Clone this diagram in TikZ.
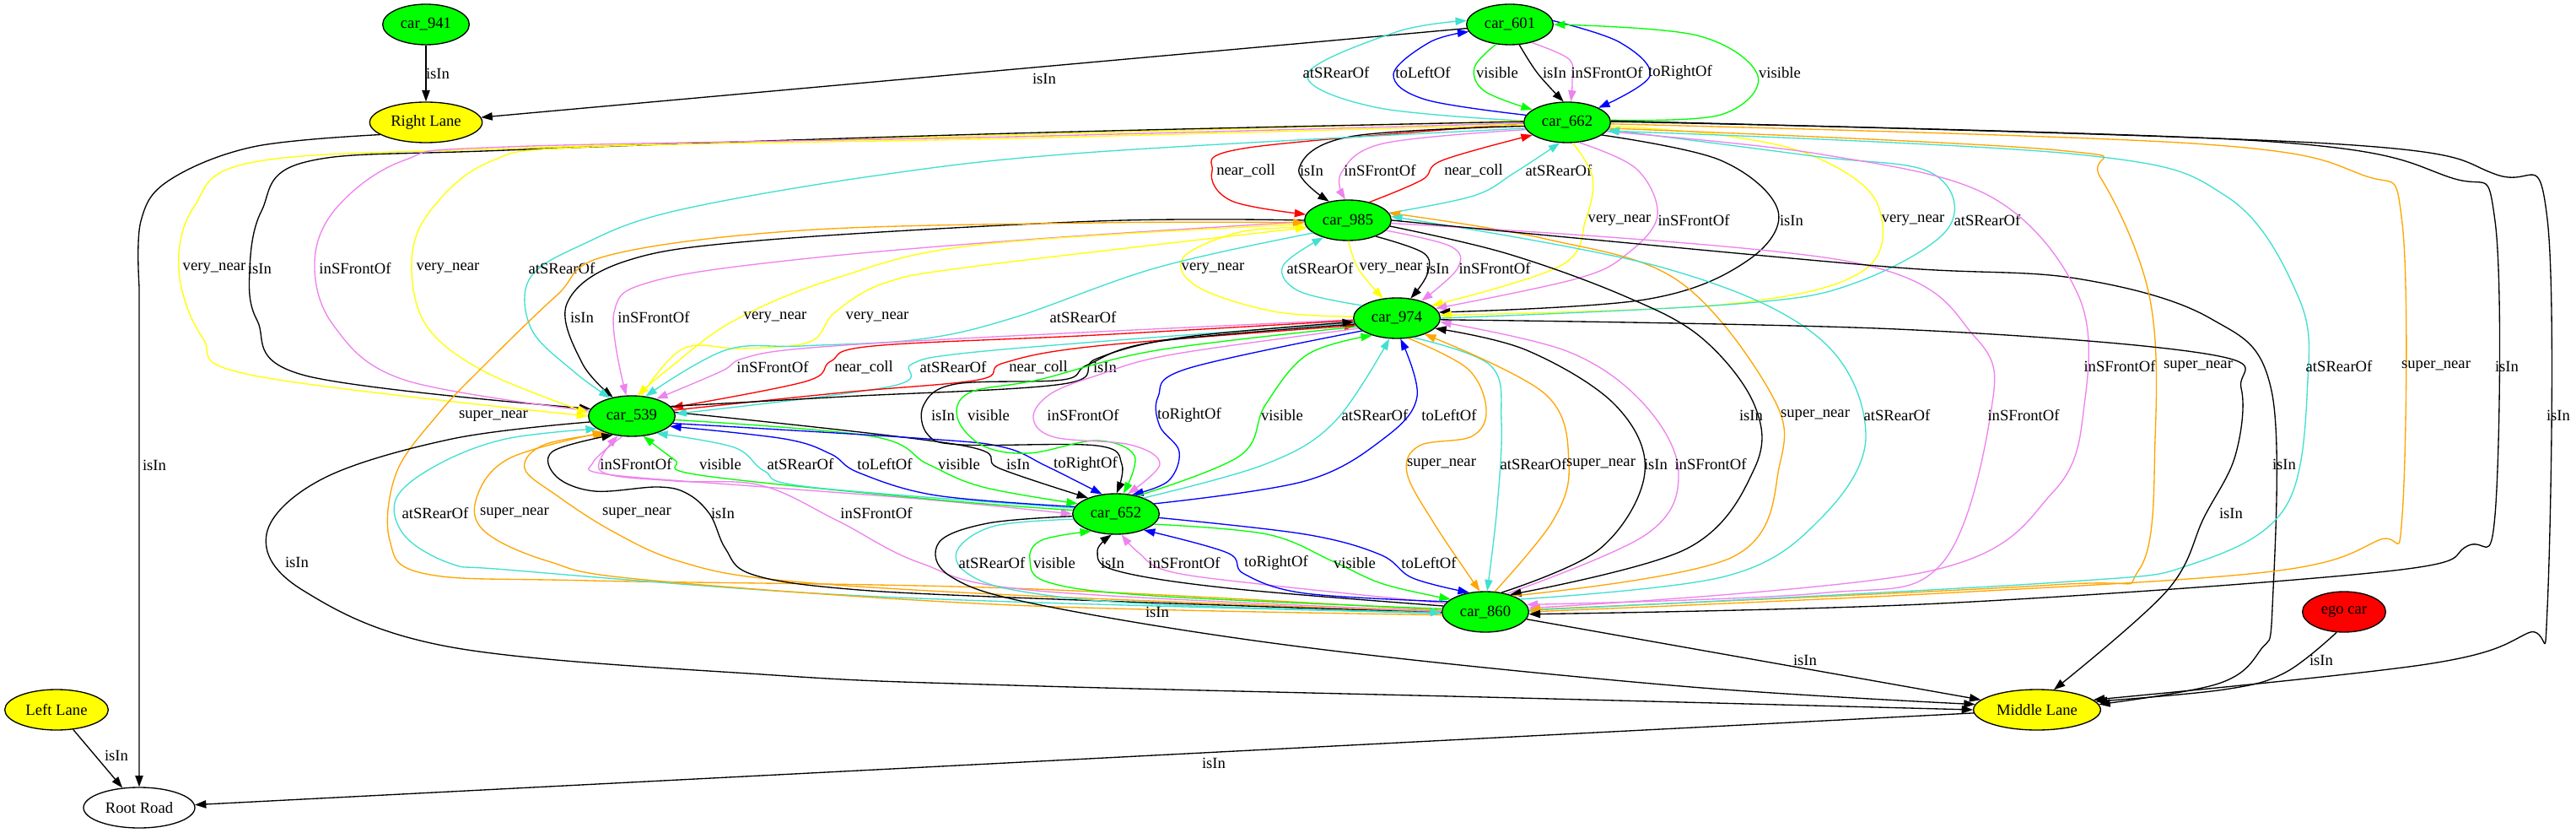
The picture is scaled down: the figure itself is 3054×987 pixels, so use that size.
\documentclass[tikz,border=0pt]{standalone}
\usepackage{fontspec}
\setmainfont{Liberation Serif}
\usetikzlibrary{shapes.geometric,arrows.meta}
\definecolor{gvgreen}{RGB}{0,255,0}
\definecolor{gvyellow}{RGB}{255,255,0}
\definecolor{gvturq}{RGB}{64,224,208}
\definecolor{gvviolet}{RGB}{238,130,238}
\definecolor{gvorange}{RGB}{255,165,0}
\begin{document}
\begin{tikzpicture}[x=0.75pt, y=-0.75pt,
    >={Triangle[length=10pt, width=7pt]},
    every node/.style={font=\fontsize{14}{16}\selectfont},
    obj/.style={ellipse, draw, line width=1pt, minimum height=36pt, inner sep=0pt},
    car/.style={obj, fill=gvgreen, minimum width=77pt},
    lane/.style={obj, fill=gvyellow, minimum width=100pt},
    rel/.style={->, line width=1pt, smooth, tension=0.6},
    lbl/.style={inner sep=1pt, text=black}]
    \useasboundingbox (0,0) rectangle (3054,987);
    \node [car] (n941) at (505,29) {car\_941};
    \node [lane] (rlane) at (505,145) {Right Lane};
    \node [car] (c601) at (1790,29) {car\_601};
    \node [car] (c662) at (1858,145) {car\_662};
    \node [car] (c985) at (1598,261) {car\_985};
    \node [car] (c974) at (1656,377) {car\_974};
    \node [car] (c539) at (749,493) {car\_539};
    \node [car] (c652) at (1323,609) {car\_652};
    \node [car] (c860) at (1761,725) {car\_860};
    \node [obj, fill=red, minimum width=74pt] (ego) at (2779,725) {ego car};
    \node [lane, minimum width=92pt] (llane) at (67,841) {Left Lane};
    \node [lane, minimum width=113pt] (mlane) at (2415,841) {Middle Lane};
    \node [obj, minimum width=99pt] (road) at (165,957) {Root Road};

    \draw [rel] (n941) -- (rlane) node [lbl] at (519,87) {isIn};
    \draw [rel] (c601) -- (rlane) node [lbl] at (1238,93) {isIn};
    \draw [rel] plot coordinates {(rlane.195) (300,174) (200,214) (167,262) (165,340)} -- (road) node [lbl] at (183,551) {isIn};
    \draw [rel] (llane) -- (road) node [lbl] at (138,895) {isIn};
    \draw [rel] (mlane) -- (road) node [lbl] at (1439,904) {isIn};

    \draw [rel, gvturq] plot coordinates {(c662.178) (1630,127) (1550,88) (1655,38) (c601.175)} node [lbl] at (1584,86) {atSRearOf};
    \draw [rel, blue] plot coordinates {(c662.170) (1690,118) (1652,88) (1695,50) (c601.190)} node [lbl] at (1687,86) {toLeftOf};
    \draw [rel, gvgreen] plot coordinates {(c601.235) (1748,80) (1760,108) (c662.160)} node [lbl] at (1775,86) {visible};
    \draw [rel] plot coordinates {(c601.295) (1823,87) (c662.100)} node [lbl] at (1843,86) {isIn};
    \draw [rel, gvviolet] plot coordinates {(c601.320) (1860,70) (1864,95) (c662.80)} node [lbl] at (1905,86) {inSFrontOf};
    \draw [rel, blue] plot coordinates {(c601.5) (1920,50) (1956,90) (c662.25)} node [lbl] at (1992,86) {toRightOf};
    \draw [rel, gvgreen] plot coordinates {(c662.3) (2040,136) (2084,90) (2012,42) (c601.0)} node [lbl] at (2110,86) {visible};

    \draw [rel, red] plot coordinates {(c662.182) (1480,175) (1437,203) (1460,238) (c985.172)} node [lbl] at (1477,202) {near\_coll};
    \draw [rel] plot coordinates {(c662.185) (1600,162) (1540,200) (c985.135)} node [lbl] at (1555,202) {isIn};
    \draw [rel, gvviolet] plot coordinates {(c662.190) (1640,170) (1590,205) (c985.97)} node [lbl] at (1636,202) {inSFrontOf};
    \draw [rel, red] plot coordinates {(c985.40) (1686,213) (1710,190) (c662.200)} node [lbl] at (1747,202) {near\_coll};
    \draw [rel, gvturq] plot coordinates {(c985.10) (1747,232) (1795,205) (c662.250)} node [lbl] at (1848,202) {atSRearOf};

    \draw [rel, gvyellow] plot coordinates {(c662.285) (1888,210) (1880,260) (1850,315) (c974.20)} node [lbl] at (1920,261) {very\_near};
    \draw [rel, gvviolet] plot coordinates {(c662.300) (1940,200) (1965,255) (1930,300) (1870,330) (c974.14)} node [lbl] at (2008,261) {inSFrontOf};
    \draw [rel] plot coordinates {(c662.340) (2040,190) (2108,250) (2070,310) (1950,355) (c974.8)} node [lbl] at (2124,261) {isIn};
    \draw [rel, gvyellow] plot coordinates {(c662.355) (2040,160) (2150,185) (2225,240) (2210,320) (2050,360) (c974.4)} node [lbl] at (2268,261) {very\_near};
    \draw [rel, gvturq] plot coordinates {(c974.0) (2060,360) (2200,335) (2310,270) (2290,205) (2150,185) (c662.350)} node [lbl] at (2356,261) {atSRearOf};

    \draw [rel, gvyellow] plot coordinates {(c974.178) (1510,369) (1420,340) (1403,305) (1470,275) (c985.190)} node [lbl] at (1438,318) {very\_near};
    \draw [rel, gvturq] plot coordinates {(c974.160) (1540,345) (1521,315) (c985.215)} node [lbl] at (1565,318) {atSRearOf};
    \draw [rel, gvyellow] plot coordinates {(c985.272) (1610,318) (c974.125)} node [lbl] at (1649,318) {very\_near};
    \draw [rel] plot coordinates {(c985.330) (1688,300) (1692,325) (c974.55)} node [lbl] at (1704,318) {isIn};
    \draw [rel, gvviolet] plot coordinates {(c985.345) (1720,292) (1728,318) (c974.35)} node [lbl] at (1772,318) {inSFrontOf};

    \draw [rel] plot coordinates {(c985.180) (1300,262) (900,285) (740,310) (672,360) (690,430) (c539.135)} node [lbl] at (690,376) {isIn};
    \draw [rel, gvviolet] plot coordinates {(c985.182) (1230,283) (950,307) (775,333) (728,370) (c539.105)} node [lbl] at (775,376) {inSFrontOf};
    \draw [rel, gvyellow] plot coordinates {(c985.185) (1160,290) (990,330) (870,380) (795,435) (c539.75)} node [lbl] at (919,376) {very\_near};
    \draw [rel, gvyellow] plot coordinates {(c539.65) (810,413) (880,413) (960,405) (990,370) (1050,335) (1160,315) (c985.190)} node [lbl] at (1040,376) {very\_near};
    \draw [rel, gvturq] plot coordinates {(c985.200) (1372,317) (1200,377) (1090,402) (950,410) (860,415) (c539.55)} node [lbl] at (1284,376) {atSRearOf};

    \draw [rel, gvyellow] plot coordinates {(c662.178) (1200,160) (600,176) (301,192) (230,245) (212,320) (240,400) (301,445) (c539.180)} node [lbl] at (254,318) {very\_near};
    \draw [rel] plot coordinates {(c662.179) (1200,158) (600,178) (362,192) (310,250) (296,320) (305,380) (362,445) (c539.170)} node [lbl] at (308,318) {isIn};
    \draw [rel, gvviolet] plot coordinates {(c662.181) (1200,162) (600,174) (479,190) (400,245) (373,310) (395,385) (479,450) (c539.173)} node [lbl] at (421,318) {inSFrontOf};
    \draw [rel, gvyellow] plot coordinates {(c662.183) (1200,164) (700,174) (580,192) (510,250) (488,310) (505,385) (574,440) (c539.176)} node [lbl] at (531,318) {very\_near};
    \draw [rel, gvturq] plot coordinates {(c662.188) (1300,180) (1046,207) (800,250) (690,290) (628,330) (630,390) (680,440) (c539.140)} node [lbl] at (666,318) {atSRearOf};
    \draw [rel, gvorange] plot coordinates {(c860.178) (1200,697) (700,688) (505,680) (462,640) (470,560) (520,490) (574,433) (660,350) (720,303) (950,273) (1300,264) (c985.183)} node [lbl] at (585,493) {super\_near};

    \draw [rel, gvturq] plot coordinates {(c860.182) (1200,713) (918,700) (600,675) (535,668) (480,635) (470,590) (520,550) (600,520) (c539.200)} node [lbl] at (516,608) {atSRearOf};
    \draw [rel, gvorange] plot coordinates {(c860.184) (1200,717) (765,687) (650,665) (575,630) (565,590) (604,543) (c539.210)} node [lbl] at (610,608) {super\_near};
    \draw [rel, gvorange] plot coordinates {(c860.180) (1200,705) (920,687) (805,665) (727,630) (660,587) (622,555) (645,527) (c539.215)} node [lbl] at (755,608) {super\_near};
    \draw [rel] plot coordinates {(c860.181) (1200,708) (995,697) (890,680) (860,650) (842,610) (815,585) (780,577) (705,582) (660,565) (655,535) (c539.225)} node [lbl] at (857,608) {isIn};
    \draw [rel, gvviolet] plot coordinates {(c860.179) (1230,700) (1091,667) (993,617) (902,575) (800,570) (712,558) (c539.235)} node [lbl] at (1039,608) {inSFrontOf};

    \draw [rel, gvviolet] plot coordinates {(c539.245) (703,548) (720,562) (906,577) (1100,592) (c652.180)} node [lbl] at (754,550) {inSFrontOf};
    \draw [rel, gvgreen] plot coordinates {(c652.175) (1110,592) (830,563) (800,545) (c539.300)} node [lbl] at (854,550) {visible};
    \draw [rel, gvturq] plot coordinates {(c652.172) (960,577) (906,558) (870,530) (c539.325)} node [lbl] at (949,550) {atSRearOf};
    \draw [rel, blue] plot coordinates {(c652.170) (1110,587) (1018,560) (985,538) (930,520) (c539.345)} node [lbl] at (1049,550) {toLeftOf};
    \draw [rel, gvgreen] plot coordinates {(c539.355) (1034,517) (1100,550) (1165,577) (c652.165)} node [lbl] at (1137,550) {visible};
    \draw [rel] plot coordinates {(c539.5) (1136,527) (1185,555) (c652.150)} node [lbl] at (1207,550) {isIn};
    \draw [rel, blue] plot coordinates {(c539.350) (1100,520) (1190,530) (1240,552) (c652.125)} node [lbl] at (1287,550) {toRightOf};

    \draw [rel, gvviolet] plot coordinates {(c974.182) (1160,400) (950,413) (880,425) (855,440) (c539.35)} node [lbl] at (916,435) {inSFrontOf};
    \draw [rel, red] plot coordinates {(c974.183) (1300,397) (1035,410) (985,428) (955,452) (c539.12)} node [lbl] at (1024,435) {near\_coll};
    \draw [rel, gvturq] plot coordinates {(c974.186) (1300,405) (1130,420) (1080,432) (1055,458) (c539.3)} node [lbl] at (1130,435) {atSRearOf};
    \draw [rel, red] plot coordinates {(c539.8) (1000,465) (1160,450) (1190,430) (1300,410) (c974.190)} node [lbl] at (1231,435) {near\_coll};
    \draw [rel] plot coordinates {(c539.14) (1000,470) (1260,455) (1300,425) (1400,400) (c974.185)} node [lbl] at (1310,435) {isIn};

    \draw [rel] plot coordinates {(c974.188) (1370,405) (1290,432) (1260,450) (1133,455) (1095,480) (1100,515) (1140,527) (1300,528) (1330,550) (c652.88)} node [lbl] at (1118,492) {isIn};
    \draw [rel, gvgreen] plot coordinates {(c974.192) (1372,415) (1231,450) (1150,465) (1135,495) (1165,528) (1220,537) (1300,522) (1345,540) (c652.70)} node [lbl] at (1172,492) {visible};
    \draw [rel, gvviolet] plot coordinates {(c974.195) (1390,420) (1300,445) (1245,467) (1225,495) (1250,518) (1340,527) (1375,550) (c652.60)} node [lbl] at (1284,492) {inSFrontOf};
    \draw [rel, blue] plot coordinates {(c974.200) (1407,437) (1373,470) (1375,505) (1398,535) (1385,570) (c652.50)} node [lbl] at (1410,492) {toRightOf};
    \draw [rel, gvgreen] plot coordinates {(c652.40) (1470,540) (1500,480) (1550,420) (c974.215)} node [lbl] at (1520,492) {visible};
    \draw [rel, gvturq] plot coordinates {(c652.30) (1500,550) (1582,500) (c974.250)} node [lbl] at (1630,492) {atSRearOf};
    \draw [rel, blue] plot coordinates {(c652.15) (1547,570) (1640,520) (1680,470) (c974.280)} node [lbl] at (1718,492) {toLeftOf};

    \draw [rel, gvorange] plot coordinates {(c974.300) (1740,437) (1762,485) (1745,517) (1683,528) (1668,560) (1700,620) (c860.105)} node [lbl] at (1709,550) {super\_near};
    \draw [rel, gvturq] plot coordinates {(c974.310) (1767,433) (1780,500) (1775,600) (c860.85)} node [lbl] at (1818,550) {atSRearOf};
    \draw [rel, gvorange] plot coordinates {(c860.65) (1841,617) (1860,550) (1832,467) (c974.330)} node [lbl] at (1898,550) {super\_near};
    \draw [rel] plot coordinates {(c860.50) (1897,650) (1950,560) (1915,480) (1810,415) (c974.345)} node [lbl] at (1963,550) {isIn};
    \draw [rel, gvviolet] plot coordinates {(c860.40) (1952,633) (1990,560) (1950,480) (1860,417) (c974.355)} node [lbl] at (2028,550) {inSFrontOf};

    \draw [rel] plot coordinates {(c985.352) (1785,300) (1924,350) (2017,400) (2080,480) (2080,555) (2000,650) (c860.35)} node [lbl] at (2076,492) {isIn};
    \draw [rel, gvorange] plot coordinates {(c860.30) (2054,660) (2110,550) (2100,467) (1990,333) (1832,283) (c985.10)} node [lbl] at (2152,492) {super\_near};
    \draw [rel, gvturq] plot coordinates {(c860.20) (2045,683) (2156,617) (2212,517) (2156,400) (1971,317) (c985.5)} node [lbl] at (2249,492) {atSRearOf};
    \draw [rel, gvviolet] plot coordinates {(c985.356) (2193,310) (2342,400) (2360,490) (2300,670) (2156,703) (c860.10)} node [lbl] at (2399,492) {inSFrontOf};
    \draw [rel] plot coordinates {(c985.0) (1878,283) (2249,317) (2462,330) (2620,377) (2693,463) (2694,720) (2680,770) (2630,810) (mlane.5)} node [lbl] at (2708,550) {isIn};

    \draw [rel, gvviolet] plot coordinates {(c662.347) (2160,183) (2360,233) (2464,350) (2471,480) (2434,583) (2286,677) (c860.5)} node [lbl] at (2513,434) {inSFrontOf};
    \draw [rel, gvorange] plot coordinates {(c662.352) (2440,178) (2490,210) (2548,350) (2555,520) (2536,675) (2434,693) (c860.3)} node [lbl] at (2606,434) {super\_near};
    \draw [rel, gvturq] plot coordinates {(c860.2) (2440,690) (2600,668) (2710,600) (2736,450) (2724,350) (2640,233) (2464,183) (c662.348)} node [lbl] at (2773,434) {atSRearOf};
    \draw [rel, gvorange] plot coordinates {(c662.358) (2600,170) (2800,207) (2848,265) (2848,610) (2820,640) (2694,677) (2300,703) (c860.0)} node [lbl] at (2888,434) {super\_near};
    \draw [rel] plot coordinates {(c662.1) (2680,167) (2904,210) (2958,262) (2958,610) (2925,647) (2829,677) (2300,715) (c860.357)} node [lbl] at (2972,434) {isIn};
    \draw [rel] plot coordinates {(c662.2) (2760,170) (2960,207) (3020,260) (3020,720) (2997,750) (2877,787) (mlane.10)} node [lbl] at (3033,492) {isIn};
    \draw [rel] plot coordinates {(c974.358) (2249,390) (2620,420) (2657,460) (2650,540) (2613,613) (2569,700) (mlane.50)} node [lbl] at (2645,608) {isIn};

    \draw [rel] (c860) -- (mlane) node [lbl] at (2140,782) {isIn};
    \draw [rel] plot coordinates {(ego.250) (2709,797) (2637,817) (mlane.8)} node [lbl] at (2752,782) {isIn};
    \draw [rel] plot coordinates {(c539.188) (536,520) (383,567) (316,633) (360,700) (536,767) (918,800) (1200,812) (1800,827) (mlane.180)} node [lbl] at (352,666) {isIn};
    \draw [rel] plot coordinates {(c652.183) (1171,620) (1113,643) (1127,683) (1234,717) (1547,767) (1993,813) (mlane.175)} node [lbl] at (1372,725) {isIn};

    \draw [rel, gvturq] plot coordinates {(c652.187) (1180,623) (1136,650) (1145,678) (1207,700) (1368,716) (c860.181)} node [lbl] at (1176,667) {atSRearOf};
    \draw [rel, gvgreen] plot coordinates {(c860.176) (1368,706) (1243,690) (1221,663) (1235,640) (c652.215)} node [lbl] at (1250,667) {visible};
    \draw [rel] plot coordinates {(c860.172) (1457,697) (1323,676) (1301,653) (c652.258)} node [lbl] at (1319,667) {isIn};
    \draw [rel, gvviolet] plot coordinates {(c860.168) (1502,693) (1386,677) (1350,655) (c652.285)} node [lbl] at (1404,667) {inSFrontOf};
    \draw [rel, blue] plot coordinates {(c860.165) (1547,703) (1475,680) (1455,655) (c652.330)} node [lbl] at (1513,667) {toRightOf};
    \draw [rel, gvgreen] plot coordinates {(c652.345) (1502,633) (1580,665) (1640,692) (c860.160)} node [lbl] at (1606,667) {visible};
    \draw [rel, blue] plot coordinates {(c652.355) (1547,633) (1636,657) (1675,685) (c860.130)} node [lbl] at (1694,667) {toLeftOf};
  \end{tikzpicture}
\end{document}
